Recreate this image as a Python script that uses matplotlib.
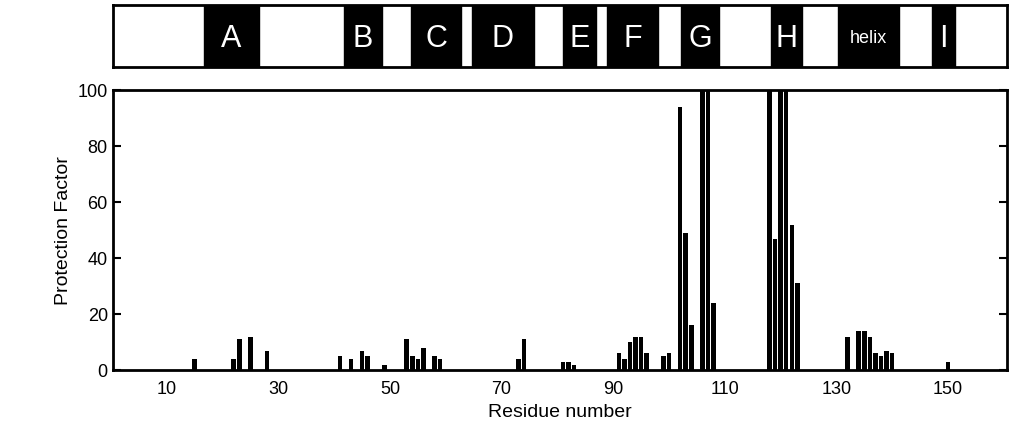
import matplotlib
matplotlib.use("Agg")
import matplotlib.pyplot as plt
plt.rcParams['font.family'] = 'Liberation Sans'

residues = [15,22,23,25,28,41,43,45,46,49,53,54,55,56,58,59,73,74,81,82,83,
            91,92,93,94,95,96,99,100,102,103,104,106,107,108,
            118,119,120,121,122,123,132,134,135,136,137,138,139,140,150]
pf = [4,4,11,12,7,5,4,7,5,2,11,5,4,8,5,4,4,11,3,3,2,
      6,4,10,12,12,6,5,6,94,49,16,150,150,24,
      150,47,150,150,52,31,12,14,14,12,6,5,7,6,3]
ss_labels = ['A','B','C','D','E','F','G','H','helix','I']
ss_start = [16.6,41.7,53.8,64.7,81.0,88.9,102.2,118.2,130.3,147.2]
ss_end = [26.5,48.6,62.7,75.8,86.9,98.0,108.9,123.9,141.2,151.3]
xticks = [10,30,50,70,90,110,130,150]
yticks = [0,20,40,60,80,100]

fig = plt.figure(figsize=(10.24,4.34), dpi=100)
ax = fig.add_axes([0.110,0.147,0.873,0.645])
ax.bar(residues, pf, width=0.8, color='black')
ax.set_xlim(0.3,160.5)
ax.set_ylim(0,100)
ax.set_xticks(xticks)
ax.set_yticks(yticks)
ax.tick_params(axis='y', direction='in', right=True, length=6, width=1.5, labelsize=13)
ax.tick_params(axis='x', length=0, labelsize=13, pad=8)
for s in ax.spines.values():
    s.set_linewidth(2)
ax.set_xlabel('Residue number', fontsize=14)
ax.set_ylabel('Protection Factor', fontsize=14)

ax2 = fig.add_axes([0.110,0.846,0.873,0.143])
ax2.set_xlim(0.3,160.5)
ax2.set_ylim(0,1)
for lab, a, b in zip(ss_labels, ss_start, ss_end):
    ax2.axvspan(a, b, color='black')
    ax2.text((a+b)/2, 0.45, lab, color='white', ha='center', va='center',
             fontsize=13 if lab=='helix' else 22)
ax2.set_xticks([]); ax2.set_yticks([])
for s in ax2.spines.values():
    s.set_linewidth(2)
fig.savefig('out.png', dpi=100)
